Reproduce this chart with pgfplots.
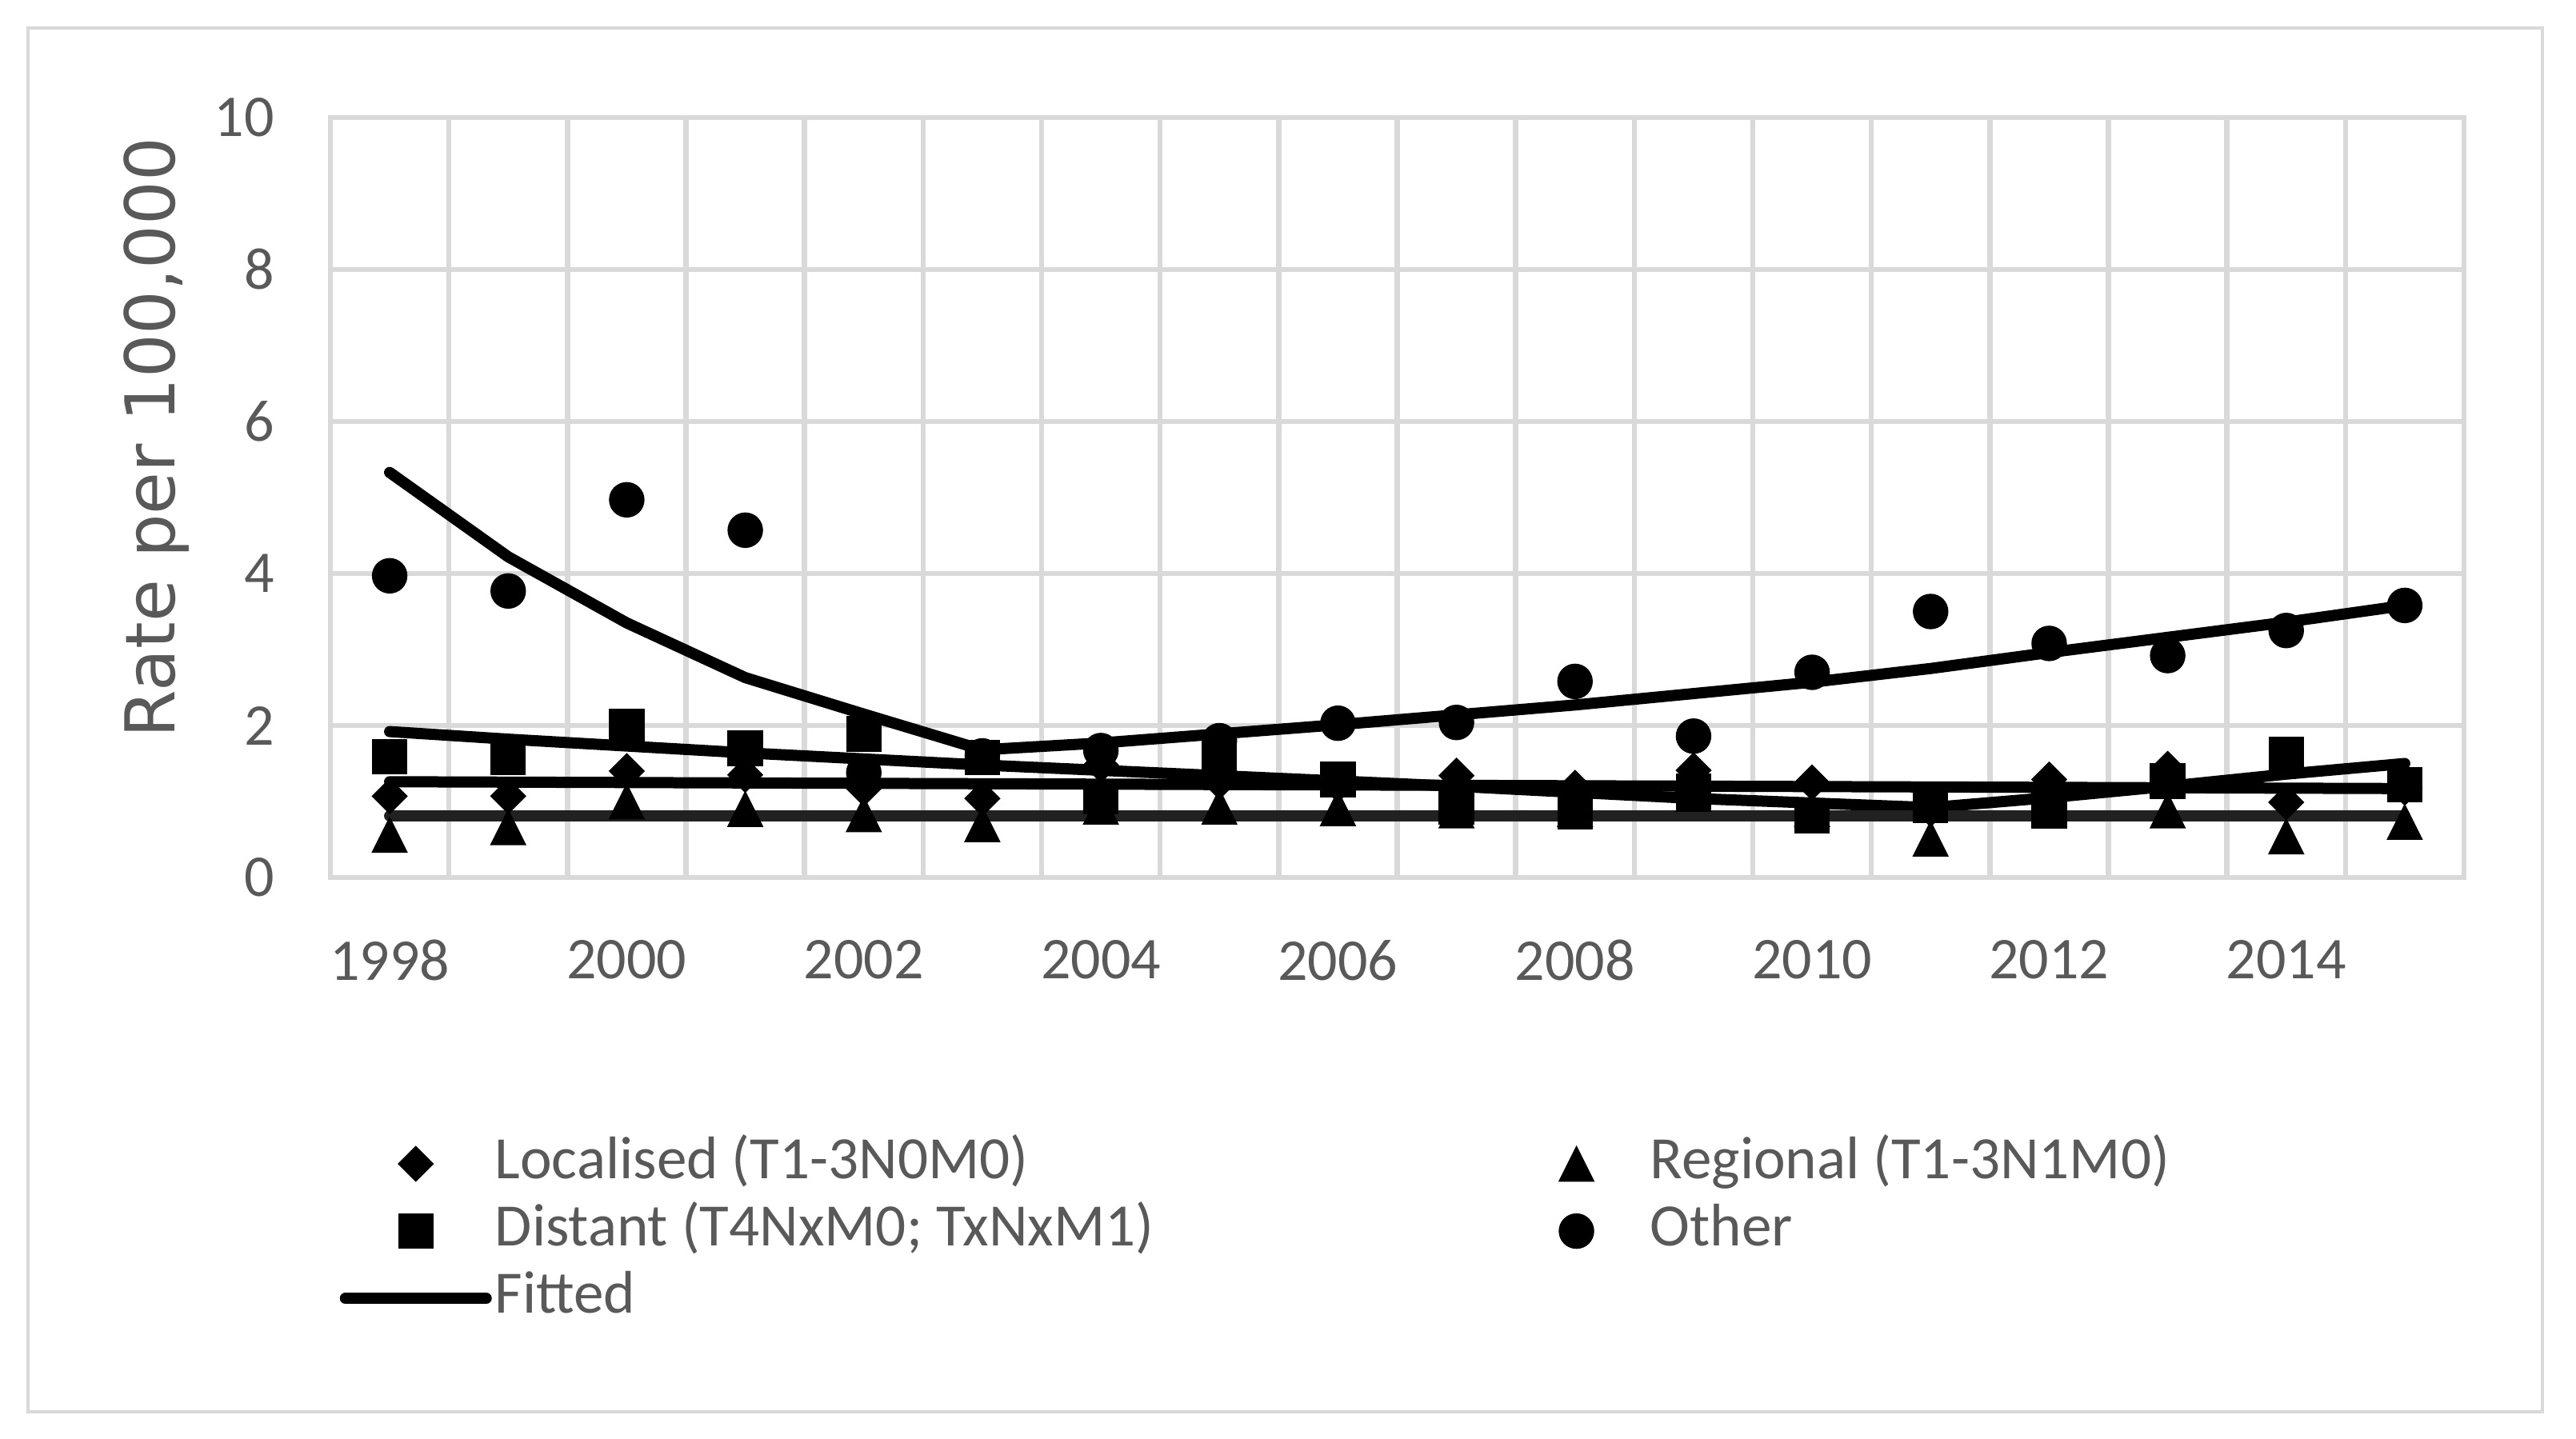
\documentclass[border=0pt]{standalone}
\usepackage{fontspec}
\setmainfont{Carlito}
\newfontfamily\labelfont{DejaVu Sans}
\usepackage{pgfplots}
\pgfplotsset{compat=1.18}
\definecolor{gridgray}{HTML}{D9D9D9}
\definecolor{txtgray}{HTML}{595959}
\definecolor{fitgray}{HTML}{212121}

\begin{document}
\begin{tikzpicture}
\path[use as bounding box] (0pt,0pt) rectangle (805pt,449.5pt);
\draw[gridgray, line width=1pt] (8.75pt,8.25pt) rectangle (794.5pt,440.75pt);
\begin{axis}[
  at={(103.25pt,175.25pt)}, anchor=south west,
  scale only axis, width=666.75pt, height=237.5pt,
  xmin=1997.5, xmax=2015.5, ymin=0, ymax=10,
  xtick={1998,2000,...,2014}, ytick={0,2,...,10},
  minor xtick={1997.5,1998.5,...,2015.5},
  xminorgrids, ymajorgrids,
  major grid style={gridgray, line width=1.6pt},
  minor grid style={gridgray, line width=1.6pt},
  axis line style={gridgray, line width=1.6pt},
  tick style={draw=none},
  /pgf/number format/assume math mode=true,
  /pgf/number format/1000 sep={},
  tick label style={font=\fontsize{18.5}{21}\selectfont, text=txtgray},
  xticklabel style={yshift=-16pt},
  yticklabel style={xshift=-14pt},
  ylabel={Rate per 100,000},
  ylabel style={at={(axis description cs:-0.0814,0.579)}, anchor=center,
    font=\labelfont\fontsize{21.5}{25}\selectfont, text=txtgray},
  legend columns=2,
  legend cell align=left,
  legend image code/.code={\path[draw=none, fill=none] (0pt,0pt) -- (44pt,0pt);
    \draw[mark repeat=2,mark phase=2,#1] plot coordinates {(0pt,0pt) (22pt,0pt) (44pt,0pt)};},
  legend style={draw=none, fill=none, at={(axis description cs:0.0041,-0.334)},
    anchor=north west, inner sep=0pt, row sep=1pt,
    font=\fontsize{18.8}{21}\selectfont, text=txtgray,
    /tikz/column 2/.style={column sep=109pt},
    nodes={inner ysep=1.5pt, inner xsep=1pt, text height=13pt, text depth=4pt}},
]
% fitted curves
\addplot[forget plot, black, line width=3.5pt, line cap=round, line join=round] coordinates {
  (1998,5.33) (1999,4.22) (2000,3.35) (2001,2.63) (2002,2.15) (2003,1.68)
  (2004,1.77) (2005,1.89) (2006,2.01) (2007,2.14) (2008,2.27) (2009,2.42)
  (2010,2.57) (2011,2.75) (2012,2.96) (2013,3.16) (2014,3.36) (2015,3.58)};
\addplot[forget plot, black, line width=3.5pt, line cap=round, line join=round] coordinates {
  (1998,1.92) (1999,1.82) (2000,1.73) (2001,1.64) (2002,1.56) (2003,1.48)
  (2004,1.41) (2005,1.34) (2006,1.27) (2007,1.20) (2008,1.12) (2009,1.04)
  (2010,0.98) (2011,0.92) (2012,1.05) (2013,1.20) (2014,1.36) (2015,1.50)};
\addplot[forget plot, black, line width=3.5pt, line cap=round] coordinates {
  (1998,1.26) (2015,1.17)};
\addplot[forget plot, fitgray, line width=3.5pt, line cap=round] coordinates {
  (1998,0.81) (2015,0.81)};
% observed rates
\addplot[only marks, mark=square*, mark size=3.8pt, mark options={rotate=45, draw=none, fill=black}] coordinates {
  (1998,1.07) (1999,1.07) (2000,1.40) (2001,1.35) (2002,1.17) (2003,1.04)
  (2004,1.48) (2005,1.26) (2006,1.22) (2007,1.34) (2008,1.18) (2009,1.41)
  (2010,1.25) (2011,0.90) (2012,1.29) (2013,1.43) (2014,0.99) (2015,1.18)};
\addlegendentry{Localised (T1-3N0M0)}
\addplot[only marks, mark=triangle*, mark size=6.2pt, mark options={yshift=-1.8pt, yscale=1.155, draw=none, fill=black}] coordinates {
  (1998,0.56) (1999,0.66) (2000,1.00) (2001,0.90) (2002,0.83) (2003,0.70)
  (2004,0.93) (2005,0.93) (2006,0.91) (2007,0.88) (2008,0.90) (2009,1.10)
  (2010,0.90) (2011,0.51) (2012,0.90) (2013,0.88) (2014,0.54) (2015,0.73)};
\addlegendentry{Regional (T1-3N1M0)}
\addplot[only marks, mark=square*, mark size=5.35pt, mark options={draw=none, fill=black}] coordinates {
  (1998,1.59) (1999,1.58) (2000,1.99) (2001,1.70) (2002,1.89) (2003,1.58)
  (2004,1.06) (2005,1.60) (2006,1.29) (2007,0.93) (2008,0.86) (2009,1.13)
  (2010,0.81) (2011,0.95) (2012,0.88) (2013,1.27) (2014,1.62) (2015,1.22)};
\addlegendentry{Distant (T4NxM0; TxNxM1)}
\addplot[only marks, mark=*, mark size=5.35pt, mark options={draw=none, fill=black}] coordinates {
  (1998,3.97) (1999,3.77) (2000,4.97) (2001,4.57) (2002,1.38) (2003,1.60)
  (2004,1.67) (2005,1.80) (2006,2.03) (2007,2.04) (2008,2.58) (2009,1.86)
  (2010,2.70) (2011,3.50) (2012,3.08) (2013,2.92) (2014,3.25) (2015,3.58)};
\addlegendentry{Other}
\addlegendimage{black, line width=3.5pt, line cap=round}
\addlegendentry{Fitted}
\end{axis}
\end{tikzpicture}
\end{document}
